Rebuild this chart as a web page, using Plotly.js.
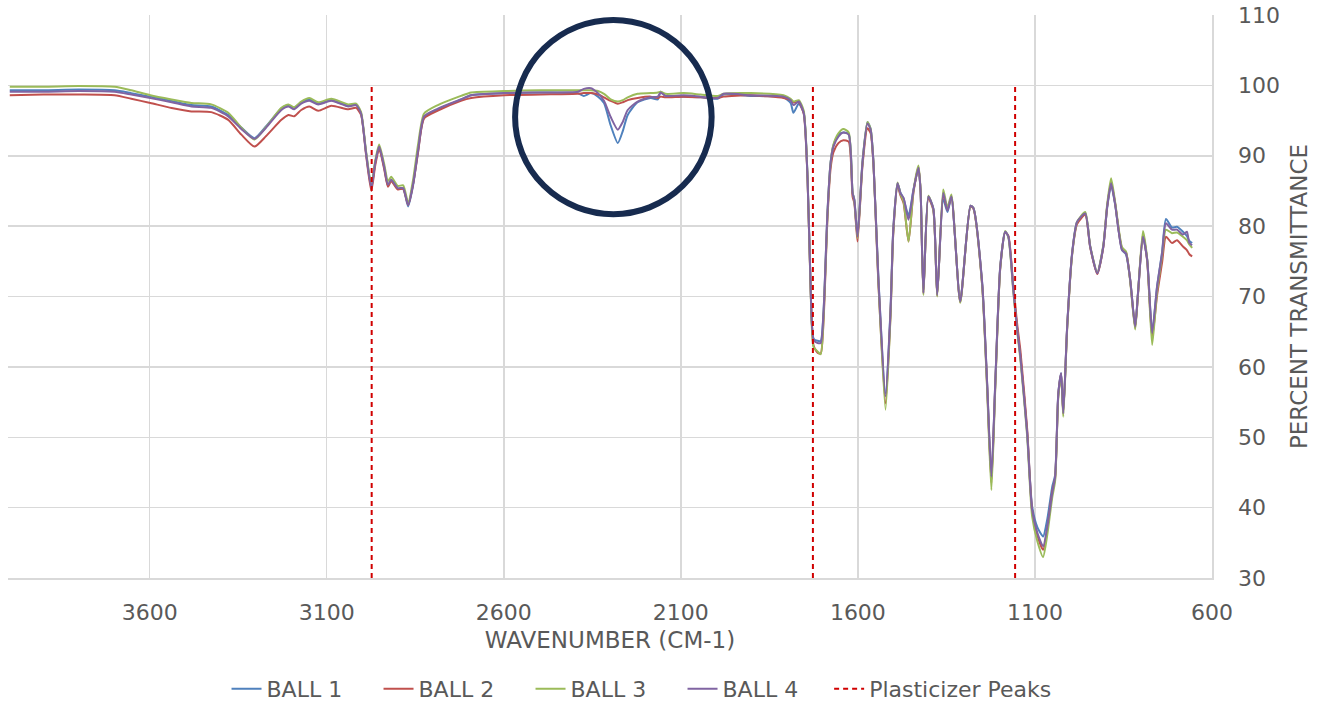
<!DOCTYPE html>
<html>
<head>
<meta charset="utf-8">
<script src="https://cdn.plot.ly/plotly-3.0.1.min.js"></script>
<style>html,body{margin:0;padding:0;background:#fff;}#chart{width:1325px;height:708px;}</style>
</head>
<body>
<div id="chart"></div>
<script>
// Wavenumber (cm-1)
var wavenumber = [3995,3900,3800,3699,3652,3598,3538,3482,3426,3378,3341,3304,3271,3228,3208,3192,3172,3149,3124,3087,3039,3017,3003,2989,2974,2963,2952,2938,2927,2918,2899,2884,2870,2856,2842,2825,2786,2721,2692,2599,2495,2391,2374,2354,2334,2317,2298,2278,2264,2250,2222,2185,2165,2157,2143,2092,2044,1996,1979,1903,1810,1790,1782,1767,1753,1742,1734,1725,1714,1705,1697,1686,1677,1669,1655,1641,1626,1615,1610,1601,1587,1573,1564,1556,1542,1522,1508,1500,1488,1480,1471,1457,1443,1429,1423,1415,1401,1387,1376,1359,1347,1336,1311,1282,1274,1249,1235,1223,1212,1198,1184,1175,1161,1150,1141,1122,1108,1093,1077,1065,1051,1043,1034,1026,1020,1009,995,981,958,944,924,907,896,885,874,854,843,831,817,809,795,783,769,755,741,730,713,699,682,671,664,656];

var ball1 = [99.3,99.3,99.4,99.3,98.9,98.4,97.8,97.2,97.0,95.8,94.0,92.5,94.2,96.7,97.2,96.8,97.6,98.0,97.4,97.9,97.1,97.3,96.0,90.5,85.6,89.0,91.2,88.4,85.7,86.5,85.3,85.3,82.8,85.8,90.6,95.4,96.6,98.0,98.6,98.9,99.0,98.9,98.5,98.9,98.4,97.5,94.3,91.8,93.5,95.8,97.6,98.2,98.0,99.1,98.5,98.4,98.3,98.1,98.7,98.5,98.3,97.5,96.1,97.4,96.1,86.8,72.6,64.0,63.7,63.7,67.9,81.9,89.1,91.5,93.0,93.3,93.1,84.8,83.8,78.6,89.2,94.8,93.8,89.1,72.6,56.2,68.0,79.6,86.1,84.8,83.9,81.5,85.2,88.2,85.1,70.6,84.2,82.5,70.3,83.8,82.0,84.1,69.4,82.9,82.6,71.9,57.6,44.0,57.8,74.2,79.2,78.5,71.0,65.4,61.5,50.8,40.2,37.2,35.9,38.4,43.0,44.6,56.2,59.1,53.5,65.8,76.2,80.6,81.8,77.1,73.3,77.1,82.6,85.8,83.2,76.6,76.0,72.4,65.7,70.5,78.5,75.2,64.9,71.5,76.3,81.0,79.8,79.9,79.2,78.6,77.9,77.6];

var ball2 = [98.6,98.7,98.7,98.6,98.1,97.5,96.8,96.3,96.2,95.1,93.0,91.3,92.8,95.1,95.8,95.6,96.5,97.0,96.4,97.1,96.6,96.8,95.8,90.2,85.0,88.6,91.0,88.2,85.6,86.4,85.2,85.3,83.0,86.0,90.5,95.3,96.4,97.8,98.2,98.6,98.7,98.8,98.9,98.9,98.7,98.3,97.8,97.4,97.6,97.9,98.2,98.4,98.2,98.4,98.3,98.4,98.3,98.2,98.4,98.6,98.2,97.9,97.6,97.6,96.0,86.4,72.0,63.0,62.0,61.9,66.5,81.0,88.2,90.5,91.8,92.2,92.0,84.2,83.3,77.8,88.6,93.9,93.2,88.7,71.8,54.8,67.2,79.0,85.7,84.4,83.3,77.8,84.8,88.4,85.0,70.4,84.0,82.3,70.1,84.4,82.3,84.2,69.2,82.8,82.5,71.6,57.2,43.5,57.4,74.0,79.1,78.6,71.4,66.0,62.3,51.2,39.6,36.0,34.0,37.0,42.3,44.2,56.0,59.0,53.3,65.6,76.0,80.3,81.6,77.0,73.2,77.0,82.8,86.2,83.4,76.8,76.3,72.3,65.5,70.3,78.9,75.0,64.2,70.2,74.8,78.5,77.6,78.0,77.1,76.6,76.0,75.7];

var ball3 = [99.8,99.8,99.9,99.8,99.3,98.6,98.0,97.5,97.3,96.1,94.0,92.3,94.1,96.8,97.3,96.9,97.7,98.2,97.6,98.1,97.3,97.4,96.2,90.7,85.8,89.3,91.6,88.9,86.4,87.0,85.7,85.8,83.3,86.6,91.6,96.0,97.2,98.5,99.0,99.2,99.3,99.3,99.3,99.3,99.2,98.8,98.0,97.7,97.9,98.3,98.8,98.9,99.0,99.1,98.8,98.9,98.7,98.5,98.8,98.9,98.6,98.1,97.7,97.9,96.4,86.6,72.0,62.8,62.2,61.8,66.8,81.5,89.0,91.6,93.2,93.8,93.3,84.8,83.6,78.3,89.0,94.8,93.8,89.0,72.0,53.9,67.0,79.2,86.2,84.6,83.5,77.8,85.0,88.6,85.2,70.2,84.3,82.4,70.0,85.2,82.6,84.5,69.1,82.9,82.6,71.5,56.8,42.5,57.0,74.0,79.3,78.4,70.6,65.0,61.0,50.2,38.8,35.2,33.0,36.2,41.5,43.8,55.8,58.8,52.9,65.4,75.9,80.6,82.0,77.2,73.4,77.3,83.1,86.8,83.6,77.0,76.4,72.1,65.3,70.4,79.3,75.3,63.1,70.8,75.8,79.5,79.0,79.1,78.5,78.0,77.4,76.9];

var ball4 = [99.1,99.1,99.2,99.1,98.7,98.2,97.6,97.0,96.8,95.6,93.8,92.4,94.0,96.5,97.0,96.6,97.4,97.8,97.3,97.8,97.0,97.2,96.0,90.4,85.4,89.0,91.3,88.5,85.9,86.6,85.4,85.4,83.0,86.0,90.8,95.6,96.7,98.0,98.6,98.9,99.0,99.1,99.5,99.6,98.9,97.8,95.5,93.7,94.8,96.5,97.7,98.3,98.4,99.0,98.5,98.6,98.4,98.2,98.8,98.6,98.4,97.9,97.2,97.7,96.1,86.6,72.4,63.8,63.4,63.4,67.7,81.8,89.0,91.3,92.7,93.3,93.0,84.7,83.7,78.5,89.0,94.6,93.7,89.0,72.4,55.8,67.7,79.5,86.1,84.7,84.0,80.9,85.1,88.3,85.1,70.5,84.2,82.5,70.2,84.7,82.2,84.2,69.3,82.9,82.6,71.9,57.7,44.4,57.7,74.2,79.2,78.5,70.9,65.3,61.4,50.6,39.7,36.4,34.5,37.3,42.1,44.4,56.2,59.1,53.4,65.7,76.1,80.6,81.8,77.1,73.3,77.1,82.8,86.1,83.3,76.6,76.1,72.4,65.7,70.5,78.5,75.2,64.8,71.4,76.1,80.4,79.5,79.5,78.8,79.2,77.6,77.3];

// Plasticizer peak positions (cm-1) and their vertical extent
var plasticizerPeaks = [2973, 1727, 1156];
var peakRange = [30, 100];

var seriesNames = ['BALL 1', 'BALL 2', 'BALL 3', 'BALL 4'];
var seriesData = [ball1, ball2, ball3, ball4];
var seriesColors = ['#4F81BD', '#C0504D', '#9BBB59', '#8064A2'];

var FONT = '"DejaVu Sans", Verdana, sans-serif';
var GREY = '#595959';

var traces = seriesData.map(function (ys, i) {
  return {
    type: 'scatter', mode: 'lines', name: seriesNames[i],
    x: wavenumber, y: ys, legend: 'legend',
    line: {color: seriesColors[i], width: 2, shape: 'spline', smoothing: 0.6},
    hoverinfo: 'x+y+name'
  };
});

var px = [], py = [];
plasticizerPeaks.forEach(function (p) {
  px.push(p, p, null); py.push(peakRange[0], peakRange[1], null);
});
traces.push({
  type: 'scatter', mode: 'lines', name: 'Plasticizer Peaks', legend: 'legend2',
  x: px, y: py, connectgaps: false,
  line: {color: '#D00000', width: 2, dash: '5px,4px'}
});

var legendCommon = {
  orientation: 'h', xanchor: 'left', y: -0.197, yanchor: 'middle',
  font: {family: FONT, size: 22, color: GREY}, itemwidth: 30, traceorder: 'normal',
  bgcolor: 'rgba(0,0,0,0)'
};

var layout = {
  width: 1325, height: 708,
  margin: {l: 8, r: 113, t: 15, b: 130, autoexpand: false},
  paper_bgcolor: '#ffffff', plot_bgcolor: '#ffffff',
  font: {family: FONT, color: GREY, size: 22},
  showlegend: true,
  legend: Object.assign({}, legendCommon, {x: 0.1815, entrywidth: 107, entrywidthmode: 'pixels'}),
  legend2: Object.assign({}, legendCommon, {x: 0.682}),
  xaxis: {
    range: [4000, 600], autorange: false, automargin: false,
    tick0: 600, dtick: 500, tickmode: 'linear',
    showgrid: true, gridcolor: '#D9D9D9', gridwidth: 1.5,
    showline: true, linecolor: '#D9D9D9', linewidth: 1.5,
    zeroline: false, ticks: '', ticklabelstandoff: 14,
    tickfont: {family: FONT, size: 22, color: GREY},
    title: {text: 'WAVENUMBER (CM-1)', font: {family: FONT, size: 23, color: GREY}, standoff: 8}
  },
  yaxis: {
    side: 'right', range: [30, 110], autorange: false, automargin: false,
    tick0: 30, dtick: 10, tickmode: 'linear',
    showgrid: true, gridcolor: '#D9D9D9', gridwidth: 1.5,
    showline: true, linecolor: '#D9D9D9', linewidth: 1.5,
    zeroline: false, ticks: '', ticklabelstandoff: 20,
    tickfont: {family: FONT, size: 22, color: GREY},
    title: {text: 'PERCENT TRANSMITTANCE', font: {family: FONT, size: 23, color: GREY}, standoff: 12}
  },
  shapes: [{
    type: 'circle', xref: 'x', yref: 'y',
    x0: 2568, x1: 2013, y0: 81.7, y1: 109.3,
    line: {color: '#172B4F', width: 6}, fillcolor: 'rgba(0,0,0,0)'
  }]
};

Plotly.newPlot('chart', traces, layout, {staticPlot: true, displayModeBar: false});
</script>
</body>
</html>
